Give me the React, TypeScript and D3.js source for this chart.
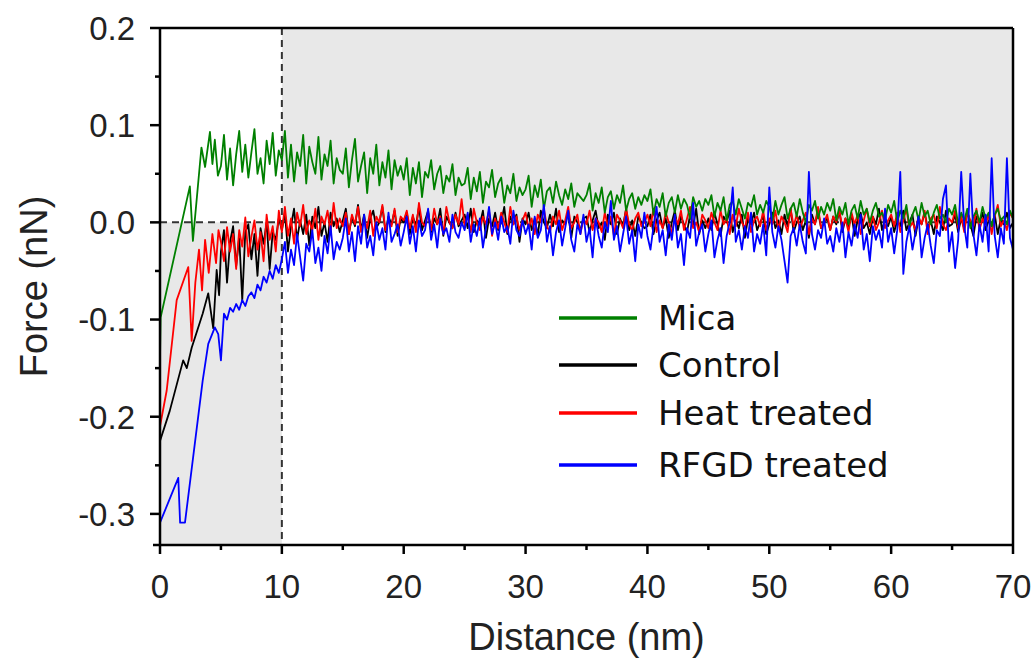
import React from "react";
import * as d3 from "d3";

// ---- data (force values in pN; x in nm) ----
const seriesNames = ["Mica", "Control", "Heat treated", "RFGD treated"];
const seriesColors = ["#008000", "#000000", "#ff0000", "#0000ff"];

const TAIL_START = 5.0;
const TAIL_STEP = 0.25;

const micaHead: [number, number][] = [
  [0, -140], [0.05, -98], [2.45, 37], [2.7, -19], [3.4, 77], [3.7, 57], [4.1, 93], [4.3, 60], [4.5, 85], [4.75, 48],
];
const micaTail = [
  58, 90, 44, 76, 38, 70, 94, 52, 80, 46, 72, 96, 50, 66, 40, 84, 60, 92, 48, 74,
  64, 94, 46, 80, 42, 72, 58, 90, 40, 78, 62, 50, 88, 44, 70, 58, 84, 40, 66, 54,
  50, 76, 36, 64, 86, 42, 58, 72, 30, 66, 50, 80, 38, 62, 46, 74, 34, 64, 48, 58,
  44, 66, 28, 56, 40, 62, 26, 52, 46, 64, 34, 50, 58, 30, 48, 42, 60, 28, 46, 38,
  40, 56, 24, 46, 32, 52, 20, 42, 36, 54, 26, 40, 46, 20, 38, 30, 50, 22, 36, 28,
  34, 48, 16, 38, 26, 44, 14, 32, 36, 20, 42, 28, 18, 34, 24, 40, 16, 30, 26, 22,
  28, 40, 12, 30, 20, 36, 10, 26, 32, 14, 28, 20, 38, 12, 24, 30, 14, 26, 18, 28,
  22, 34, 8, 24, 16, 30, 6, 20, 26, 10, 28, 14, 24, 18, 4, 26, 16, 22, 12, 24,
  18, 28, 6, 20, 12, 26, 2, 18, 22, 8, 24, 14, 4, 20, 16, 28, 8, 18, 10, 22,
  16, 2, 22, 8, 18, 26, 4, 14, 20, 6, 24, 10, 0, 18, 12, 22, 4, 16, 8, 20,
  12, 24, 2, 16, 8, 20, -2, 12, 18, 4, 22, 8, 14, 0, 12, 20, 6, 10, 2, 18,
  10, 22, 0, 12, 4, 18, -4, 8, 16, 2, 20, 6, 12, -2, 10, 18, 4, 8, 0, 14,
  8, 18, -2, 10, 2, 14, -6, 6, 12, 0, 16, 4, 10, -4, 8, 14, 2, 6, -2, 12,
  4,
];

const controlHead: [number, number][] = [
  [0, -225], [0.8, -194], [1.9, -142], [2.2, -150], [2.6, -129], [3.5, -94], [3.96, -73], [4.37, -109], [4.65, -49], [4.85, -75],
];
const controlTail = [
  -30, -8, -62, -20, -4, -45, -15, -80, -10, -2, -38, -12, -55, -6, -22, 0, -48, -10, -18, 4,
  -8, 10, -30, -4, 14, -18, 2, -12, 8, -24, 6, -6, 16, -14, 0, -20, 10, -4, 4, -10,
  2, 14, -12, 6, -4, 18, -8, 8, -16, 4, 12, -6, 0, 16, -10, 6, -2, 12, -14, 4,
  0, 10, -12, 6, -4, 16, -8, 2, 12, -10, 4, -2, 14, -14, 6, 0, -6, 10, -4, 2,
  8, -6, 14, -10, 2, -2, 12, -16, 4, -4, 10, -8, 0, 16, -12, 6, -2, 8, -20, 4,
  -2, 10, -8, 4, -14, 12, 0, -6, 8, -4, 14, -10, 2, -2, 10, -16, 6, 0, -8, 4,
  6, -10, 2, 12, -6, 0, -18, 8, -2, 10, -12, 4, -4, 14, -8, 2, -14, 6, 0, -6,
  -4, 8, -12, 2, 10, -6, 4, -16, 0, 12, -8, 6, -2, -10, 8, -4, 14, -12, 2, -6,
  4, -8, 10, -2, -14, 6, 0, 12, -10, 2, -6, 8, -16, 4, -2, 10, -8, 0, 6, -12,
  -2, 10, -6, 2, -12, 8, -4, 14, -10, 0, 6, -8, 2, -16, 8, -2, 12, -6, 0, 4,
  -8, 6, -2, 12, -10, 4, -4, 8, -14, 2, 10, -6, 0, -12, 6, -2, 14, -8, 4, -4,
  6, -10, 2, -4, 12, -8, 0, 8, -14, 4, -2, 10, -6, 2, -12, 6, 0, -8, 12, -4,
  -2, 8, -10, 4, -6, 12, -2, -14, 6, 0, 10, -8, 2, -4, 8, -12, 4, -2, 10, -6,
  0,
];

const heatHead: [number, number][] = [
  [0, -210], [0.55, -173], [1.37, -80], [2.32, -46], [2.6, -122], [2.9, -62], [3.2, -28], [3.45, -70], [3.7, -18], [4.0, -52], [4.3, -12], [4.6, -42], [4.8, -8],
];
const heatTail = [
  -20, -40, -5, -30, -12, -48, -8, -25, 5, -35, -15, 2, -28, -10, -40, 8, -18, -4, -30, 12,
  -10, 16, -14, 4, -22, 10, -4, 18, -12, 2, -8, 14, -18, 6, -2, 12, -10, 20, -6, 4,
  -4, 10, -12, 8, -2, 16, -10, 4, -6, 12, -14, 6, 0, 18, -8, 2, -4, 14, -10, 6,
  2, 12, -6, 8, -10, 20, 0, -4, 10, -8, 14, -2, 6, -12, 16, 0, -6, 8, -2, 24,
  -4, 8, -10, 14, 0, -8, 6, -2, 12, -14, 4, -6, 10, 0, -10, 16, -2, 6, -8, 2,
  10, -6, 4, -12, 8, 0, 14, -4, -10, 6, -2, 12, -8, 2, 16, -6, 0, 8, -12, 4,
  -2, 12, -8, 4, 0, -10, 10, -4, 6, -14, 8, 2, -6, 14, -2, -8, 4, 10, -4, 0,
  8, -4, 14, -10, 2, -6, 10, 0, -12, 6, -2, 12, -8, 4, 16, -6, 0, -10, 8, 2,
  -6, 10, 0, -8, 12, -2, 4, -12, 8, -4, 14, 0, -6, 10, -10, 2, 6, -4, 12, -8,
  4, -2, 12, -8, 6, 0, -10, 14, -4, 8, -6, 2, 10, -12, 4, -2, 16, -6, 0, 8,
  -8, 6, 0, 12, -6, 4, -10, 10, -2, 8, -12, 2, 14, -4, 6, -8, 0, 12, -6, 2,
  8, -4, 10, -10, 2, 14, -6, 0, -8, 6, -2, 12, -12, 4, 8, -6, 16, -2, -8, 4,
  0, 12, -6, 6, -10, 10, 2, -4, 14, -8, 4, -2, 8, -12, 6, 18, -4, 2, -8, 10,
  4,
];

const rfgdHead: [number, number][] = [
  [0, -309], [1.5, -263], [1.65, -309], [2.05, -309], [3.5, -163], [3.96, -125], [4.5, -108], [4.78, -115],
];
const rfgdTail = [
  -142, -94, -100, -88, -92, -84, -90, -80, -86, -76, -72, -78, -64, -70, -56, -62, -50, -58, -44, -52,
  -38, -20, -52, -28, -44, -12, -36, -60, -22, -30, -8, -42, -26, -50, -14, -32, -4, -38, -20, -28,
  -16, 4, -30, -10, -40, -4, -22, 8, -26, -14, -34, 0, -18, -6, -28, 10, -20, -12, -2, -24,
  -10, 6, -22, -4, -30, 2, -14, -8, 14, -18, -2, -26, 4, -12, -6, -20, 8, -10, -16, 0,
  -8, 10, -20, -2, -14, 4, -26, -6, 16, -12, 0, -18, 6, -10, -4, -22, 12, -8, -14, 2,
  -12, -2, -28, 6, -16, -8, 18, -20, -4, -34, -10, 2, -24, -6, 12, -18, -30, -2, -12, 8,
  -20, -6, -36, 4, -14, -26, 0, -10, 22, -18, -4, -30, -12, 6, -22, -8, -40, -2, -16, 10,
  -14, -28, -4, 16, -20, -8, -34, -2, -18, 8, -26, -12, -44, -6, -16, 20, -24, -10, -2, -30,
  -12, 2, -36, -18, -6, -42, -14, 0, 36, -20, -8, -28, -4, -16, 10, -30, -12, -22, -2, -34,
  36, -10, -26, -4, -18, -40, -62, -14, -6, -24, -2, -20, -32, 52, -12, -28, -8, -16, 4, -22,
  -14, -30, -6, -20, 0, -36, -10, -24, -2, -16, 8, -28, -12, -40, -4, -18, -8, -26, 14, -20,
  -6, -32, -8, 52, -53, -20, -4, -28, -10, 6, -36, -16, -2, -24, -42, -8, -14, 24, 38, -30,
  -10, -47, -18, 52, -4, -26, 50, -12, -34, -2, -20, 8, -30, 66, -14, -36, -6, -22, 66, -16,
  -28,
];

const xTicksMajor = [0, 10, 20, 30, 40, 50, 60, 70];
const xTicksMinor = [5, 15, 25, 35, 45, 55, 65];
const xTickLabels = ["0", "10", "20", "30", "40", "50", "60", "70"];
const yTicksMajor = [-0.3, -0.2, -0.1, 0.0, 0.1, 0.2];
const yTicksMinor = [-0.25, -0.15, -0.05, 0.05, 0.15];
const yTickLabels = ["-0.3", "-0.2", "-0.1", "0.0", "0.1", "0.2"];

const heads = [micaHead, controlHead, heatHead, rfgdHead];
const tails = [micaTail, controlTail, heatTail, rfgdTail];
const drawOrder = [1, 2, 0, 3];

// ---- layout ----
const W = 1034;
const H = 658;
const M = { left: 160, top: 28, right: 21, bottom: 113 };
const AXIS_FONT = "'Liberation Sans', Arial, Helvetica, sans-serif";
const LEGEND_FONT = "'DejaVu Sans', Verdana, sans-serif";

export default function App() {
  const x = d3.scaleLinear().domain([0, 70]).range([M.left, W - M.right]);
  const y = d3.scaleLinear().domain([-0.332, 0.2]).range([H - M.bottom, M.top]);

  const series = heads.map((head, k) => {
    const pts: [number, number][] = head.map(([a, b]) => [a, b / 1000]);
    tails[k].forEach((v, i) => pts.push([TAIL_START + i * TAIL_STEP, v / 1000]));
    return pts;
  });

  const line = d3
    .line<[number, number]>()
    .x((d) => x(d[0]))
    .y((d) => y(d[1]));

  const x0 = x(0), x10 = x(10), x70 = x(70);
  const yTop = y(0.2), yBot = y(-0.332), yZero = y(0);

  const legendY = [318, 365, 413, 465];

  return (
    <svg
      width={W}
      height={H}
      style={{ position: "absolute", left: 0, top: 0, background: "#fff" }}
    >
      <defs>
        <clipPath id="plotClip">
          <rect x={x0} y={yTop} width={x70 - x0} height={yBot - yTop} />
        </clipPath>
      </defs>

      {/* shaded regions */}
      <rect x={x0} y={yZero} width={x10 - x0} height={yBot - yZero} fill="#e8e8e8" />
      <rect x={x10} y={yTop} width={x70 - x10} height={yZero - yTop} fill="#e8e8e8" />

      {/* dashed reference lines */}
      <line x1={x0} x2={x70} y1={yZero} y2={yZero} stroke="#333" strokeWidth={2} strokeDasharray="7,5" />
      <line x1={x10} x2={x10} y1={yTop} y2={yBot} stroke="#333" strokeWidth={2} strokeDasharray="7,5" />

      {/* data */}
      <g clipPath="url(#plotClip)">
        {drawOrder.map((k) => (
          <path
            key={k}
            d={line(series[k]) || ""}
            fill="none"
            stroke={seriesColors[k]}
            strokeWidth={1.8}
            strokeLinejoin="round"
          />
        ))}
      </g>

      {/* frame */}
      <line x1={x0 - 7} x2={x70} y1={yBot} y2={yBot} stroke="#000" strokeWidth={2.5} />
      <line x1={x0} x2={x70} y1={yTop} y2={yTop} stroke="#000" strokeWidth={2.5} />
      <line x1={x0} x2={x0} y1={yTop} y2={yBot} stroke="#000" strokeWidth={2.5} />
      <line x1={x70} x2={x70} y1={yTop} y2={yBot} stroke="#000" strokeWidth={2.5} />

      {/* x ticks */}
      {xTicksMajor.map((t) => (
        <line key={"xM" + t} x1={x(t)} x2={x(t)} y1={yBot} y2={yBot + 9} stroke="#000" strokeWidth={2.5} />
      ))}
      {xTicksMinor.map((t) => (
        <line key={"xm" + t} x1={x(t)} x2={x(t)} y1={yBot} y2={yBot + 5} stroke="#000" strokeWidth={2.5} />
      ))}
      {xTicksMajor.map((t, i) => (
        <text
          key={"xl" + t}
          x={x(t)}
          y={yBot + 53}
          textAnchor="middle"
          fontFamily={AXIS_FONT}
          fontSize={33}
          fill="#222"
        >
          {xTickLabels[i]}
        </text>
      ))}

      {/* y ticks */}
      {yTicksMajor.map((t) => (
        <line key={"yM" + t} x1={x0 - 10} x2={x0} y1={y(t)} y2={y(t)} stroke="#000" strokeWidth={2.5} />
      ))}
      {yTicksMinor.map((t) => (
        <line key={"ym" + t} x1={x0 - 5} x2={x0} y1={y(t)} y2={y(t)} stroke="#000" strokeWidth={2.5} />
      ))}
      {yTicksMajor.map((t, i) => (
        <text
          key={"yl" + t}
          x={x0 - 25}
          y={y(t)}
          dy="0.36em"
          textAnchor="end"
          fontFamily={AXIS_FONT}
          fontSize={33}
          fill="#222"
        >
          {yTickLabels[i]}
        </text>
      ))}

      {/* axis titles */}
      <text
        x={(x0 + x70) / 2}
        y={650}
        textAnchor="middle"
        fontFamily={AXIS_FONT}
        fontSize={38}
        fill="#222"
      >
        Distance (nm)
      </text>
      <text
        transform={`translate(47, ${(yTop + yBot) / 2}) rotate(-90)`}
        textAnchor="middle"
        fontFamily={AXIS_FONT}
        fontSize={38}
        fill="#222"
      >
        Force (nN)
      </text>

      {/* legend */}
      {seriesNames.map((name, i) => (
        <g key={name}>
          <line x1={559} x2={637} y1={legendY[i]} y2={legendY[i]} stroke={seriesColors[i]} strokeWidth={3.5} />
          <text
            x={658}
            y={legendY[i]}
            dy="0.36em"
            fontFamily={LEGEND_FONT}
            fontSize={34}
            fill="#111"
          >
            {name}
          </text>
        </g>
      ))}
    </svg>
  );
}
